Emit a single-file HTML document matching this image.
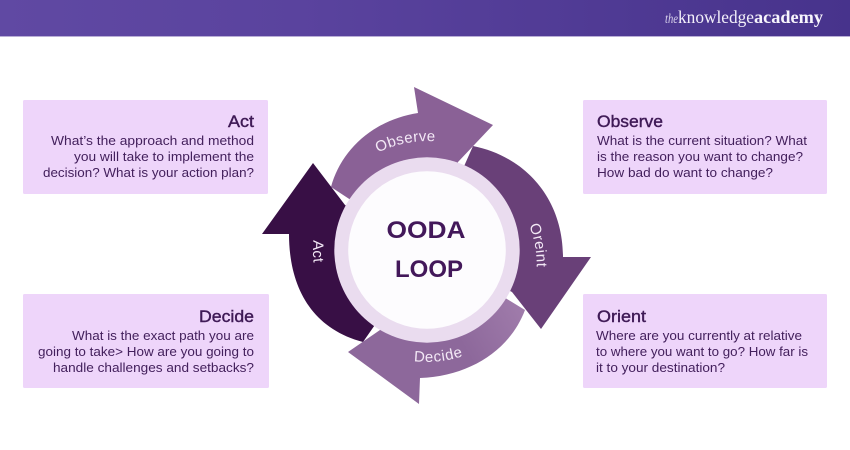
<!DOCTYPE html>
<html>
<head>
<meta charset="utf-8">
<style>
html,body{margin:0;padding:0;background:#fff;width:850px;height:450px;overflow:hidden}
svg{display:block}
.b{font-family:"Liberation Sans",sans-serif;font-size:13px;fill:#43205c}
.t{font-family:"Liberation Sans",sans-serif;font-size:17px;fill:#3f1a56;stroke:#3f1a56;stroke-width:.4px}
.a{font-family:"Liberation Sans",sans-serif;font-size:15px;fill:#f3e8f6;letter-spacing:.65px;text-anchor:middle}
.c{font-family:"Liberation Sans",sans-serif;font-size:24px;font-weight:bold;fill:#43185a}
</style>
</head>
<body>
<svg width="850" height="450" viewBox="0 0 850 450" xmlns="http://www.w3.org/2000/svg">
<defs>
<linearGradient id="h" x1="0" x2="1" y1="0" y2="0">
<stop offset="0" stop-color="#6049a3"/>
<stop offset=".35" stop-color="#5a439e"/>
<stop offset="1" stop-color="#47338c"/>
</linearGradient>
<linearGradient id="d" gradientUnits="userSpaceOnUse" x1="525" y1="310" x2="400" y2="380">
<stop offset="0" stop-color="#a07cab"/>
<stop offset=".5" stop-color="#8d689b"/>
<stop offset="1" stop-color="#8d689b"/>
</linearGradient>
<path id="po" d="M318 250 A109 109 0 0 1 536 250"/>
<path id="pr" d="M427 142 A108 108 0 0 1 427 358"/>
<path id="pd" d="M315 250 A112 112 0 0 0 539 250"/>
<path id="pa" d="M427 136 A114 114 0 0 0 427 364"/>
</defs>
<rect width="850" height="36" fill="url(#h)"/>
<rect y="36" width="850" height="1" fill="#b9aed6"/>
<text x="665" y="23" font-family="Liberation Serif,serif" font-size="14" font-style="italic" fill="#d9d2ec" textLength="13" lengthAdjust="spacingAndGlyphs">the</text>
<text x="678" y="23" font-family="Liberation Serif,serif" font-size="18" fill="#f3f0fa" textLength="76" lengthAdjust="spacingAndGlyphs">knowledge</text>
<text x="754" y="23" font-family="Liberation Serif,serif" font-size="18" font-weight="bold" fill="#f7f5fc" textLength="69" lengthAdjust="spacingAndGlyphs">academy</text>

<rect x="23" y="100" width="245" height="94" rx="1.5" fill="#eed5fa"/>
<rect x="23" y="294" width="246" height="94" rx="1.5" fill="#eed5fa"/>
<rect x="583" y="100" width="244" height="94" rx="1.5" fill="#eed5fa"/>
<rect x="583" y="294" width="244" height="94" rx="1.5" fill="#eed5fa"/>

<text class="t" x="228" y="127" textLength="26" lengthAdjust="spacingAndGlyphs">Act</text>
<text class="b" x="51" y="145" textLength="203" lengthAdjust="spacingAndGlyphs">What’s the approach and method</text>
<text class="b" x="74" y="161" textLength="180" lengthAdjust="spacingAndGlyphs">you will take to implement the</text>
<text class="b" x="43" y="177" textLength="211" lengthAdjust="spacingAndGlyphs">decision? What is your action plan?</text>

<text class="t" x="199" y="322" textLength="55" lengthAdjust="spacingAndGlyphs">Decide</text>
<text class="b" x="72" y="340" textLength="182" lengthAdjust="spacingAndGlyphs">What is the exact path you are</text>
<text class="b" x="38" y="356" textLength="216" lengthAdjust="spacingAndGlyphs">going to take&gt; How are you going to</text>
<text class="b" x="53" y="372" textLength="201" lengthAdjust="spacingAndGlyphs">handle challenges and setbacks?</text>

<text class="t" x="597" y="127" textLength="66" lengthAdjust="spacingAndGlyphs">Observe</text>
<text class="b" x="597" y="145" textLength="210" lengthAdjust="spacingAndGlyphs">What is the current situation? What</text>
<text class="b" x="597" y="161" textLength="206" lengthAdjust="spacingAndGlyphs">is the reason you want to change?</text>
<text class="b" x="597" y="177" textLength="176" lengthAdjust="spacingAndGlyphs">How bad do want to change?</text>

<text class="t" x="597" y="322" textLength="49" lengthAdjust="spacingAndGlyphs">Orient</text>
<text class="b" x="596" y="340" textLength="206" lengthAdjust="spacingAndGlyphs">Where are you currently at relative</text>
<text class="b" x="596" y="356" textLength="212" lengthAdjust="spacingAndGlyphs">to where you want to go? How far is</text>
<text class="b" x="596" y="372" textLength="129" lengthAdjust="spacingAndGlyphs">it to your destination?</text>

<path d="M331 187 C341 150 373 120 418 113 L414 87 L493 125 L458 162 L427 250 Z" fill="#8a6196"/>
<path d="M363 342 C310 328 289 285 289 234 L262 234 L313 163 L345 205 L427 250 Z" fill="#380f45"/>
<path d="M525 310 C510 350 470 376 420 378 L419 404 L348 352 L380 330 L427 250 Z" fill="url(#d)"/>
<path d="M473 146 C527 157 563 200 563 257 L591 257 L541 329 L512 292 L427 250 Z" fill="#694078"/>

<circle cx="427" cy="250" r="92.7" fill="#eadcef"/>
<circle cx="427" cy="250" r="78.8" fill="#fdfcfe"/>

<text class="c" x="386.5" y="238" textLength="79" lengthAdjust="spacingAndGlyphs">OODA</text>
<text class="c" x="395" y="277" textLength="68" lengthAdjust="spacingAndGlyphs">LOOP</text>

<text class="a" style="letter-spacing:.35px"><textPath href="#po" startOffset="43.8%">Observe</textPath></text>
<text class="a" style="letter-spacing:.4px" transform="rotate(-8 535 245)"><textPath href="#pr" startOffset="48.8%">Oreint</textPath></text>
<text class="a"><textPath href="#pd" startOffset="53.4%">Decide</textPath></text>
<text class="a"><textPath href="#pa" startOffset="50.5%">Act</textPath></text>
</svg>
</body>
</html>
